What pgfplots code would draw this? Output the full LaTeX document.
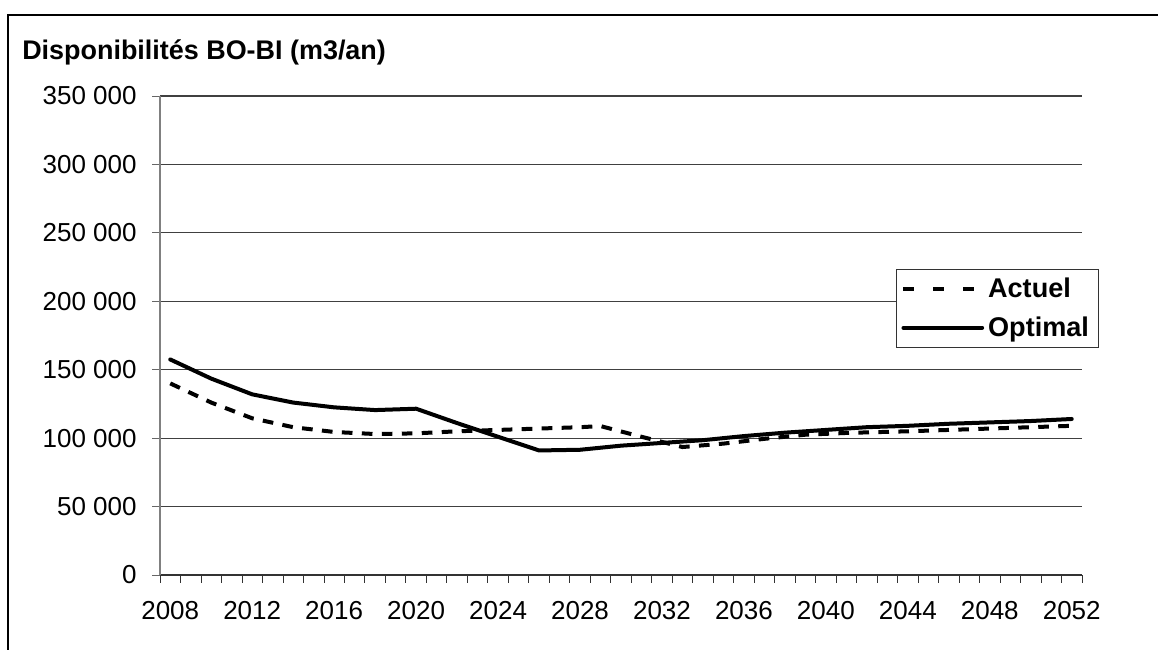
\documentclass[border=0pt]{standalone}
\usepackage{fontspec}
\setmainfont{Liberation Sans}
\usepackage{pgfplots}
\pgfplotsset{compat=1.18}
\begin{document}
\begin{tikzpicture}
\useasboundingbox (0,0) rectangle (868.5pt,487.5pt);
\draw[black, line width=1.2pt] (6pt,-10pt) -- (6pt,476.25pt) -- (880pt,476.25pt);
\node[anchor=west, inner sep=0pt, font=\fontsize{20.2}{24}\selectfont\bfseries] at (16.5pt,448pt) {Disponibilités BO-BI (m3/an)};
\begin{axis}[
  at={(120pt,56.25pt)}, anchor=south west,
  scale only axis, width=691.5pt, height=359.25pt,
  xmin=2007.5, xmax=2052.5, ymin=0, ymax=350000,
  axis lines*=left,
  x axis line style={black!80, line width=0.8pt},
  y axis line style={black!50, line width=0.8pt},
  xtick={2008,2012,...,2052},
  minor xtick={2007.5,2008.5,...,2052.6},
  major x tick style={draw=none},
  minor x tick style={black!80, line width=0.6pt},
  minor tick length=6pt,
  ytick={0,50000,...,350000},
  major y tick style={black!60, line width=0.6pt},
  major tick length=6pt,
  tick align=outside,
  ymajorgrids,
  major grid style={black!75, line width=0.8pt},
  scaled y ticks=false,
  yticklabel style={/pgf/number format/fixed, /pgf/number format/1000 sep={\ }, /pgf/number format/assume math mode=true, font=\fontsize{19.5}{22}\selectfont, xshift=-8pt},
  xticklabel style={/pgf/number format/1000 sep={}, /pgf/number format/assume math mode=true, font=\fontsize{19.5}{22}\selectfont, yshift=-10pt},
  legend style={at={(0.798,0.639)}, anchor=north west, draw=black!80, line width=0.6pt,
    font=\fontsize{20.3}{24}\selectfont\bfseries, inner xsep=4pt, inner ysep=5pt, row sep=10pt,
    nodes={inner ysep=1.5pt, inner xsep=3pt}},
  legend cell align=left,
  clip=false,
]
\addplot[black, line width=3pt, dash pattern=on 8pt off 7pt,
  legend image code/.code={\draw[black, line width=3pt, dash pattern=on 8pt off 14.5pt] (0pt,0pt) -- (59pt,0pt);}] coordinates {
(2008,140000) (2010,126000) (2012,114500) (2014,108000) (2016,104500)
(2018,103000) (2020,103500) (2022,105000) (2024,106000) (2026,107000)
(2028,108000) (2029,108800) (2031,101000) (2033,93500) (2035,96000)
(2037,99500) (2039,102500) (2041,103800) (2044,105000) (2048,107000)
(2052,109000)
};
\addlegendentry{Actuel}
\addplot[black, line width=3pt, line join=round, line cap=round,
  legend image code/.code={\draw[black, line width=3pt, line cap=round] (0pt,0pt) -- (59pt,0pt);}] coordinates {
(2008,157500) (2010,143500) (2012,132000) (2014,126000) (2016,122500)
(2018,120500) (2020,121500) (2022,111000) (2024,101000) (2026,91000)
(2028,91500) (2030,94500) (2032,96500) (2034,98500) (2036,101500)
(2038,104000) (2040,106000) (2042,108000) (2044,109000) (2046,110500)
(2048,111500) (2050,112500) (2052,114000)
};
\addlegendentry{Optimal}
\end{axis}
\end{tikzpicture}
\end{document}
